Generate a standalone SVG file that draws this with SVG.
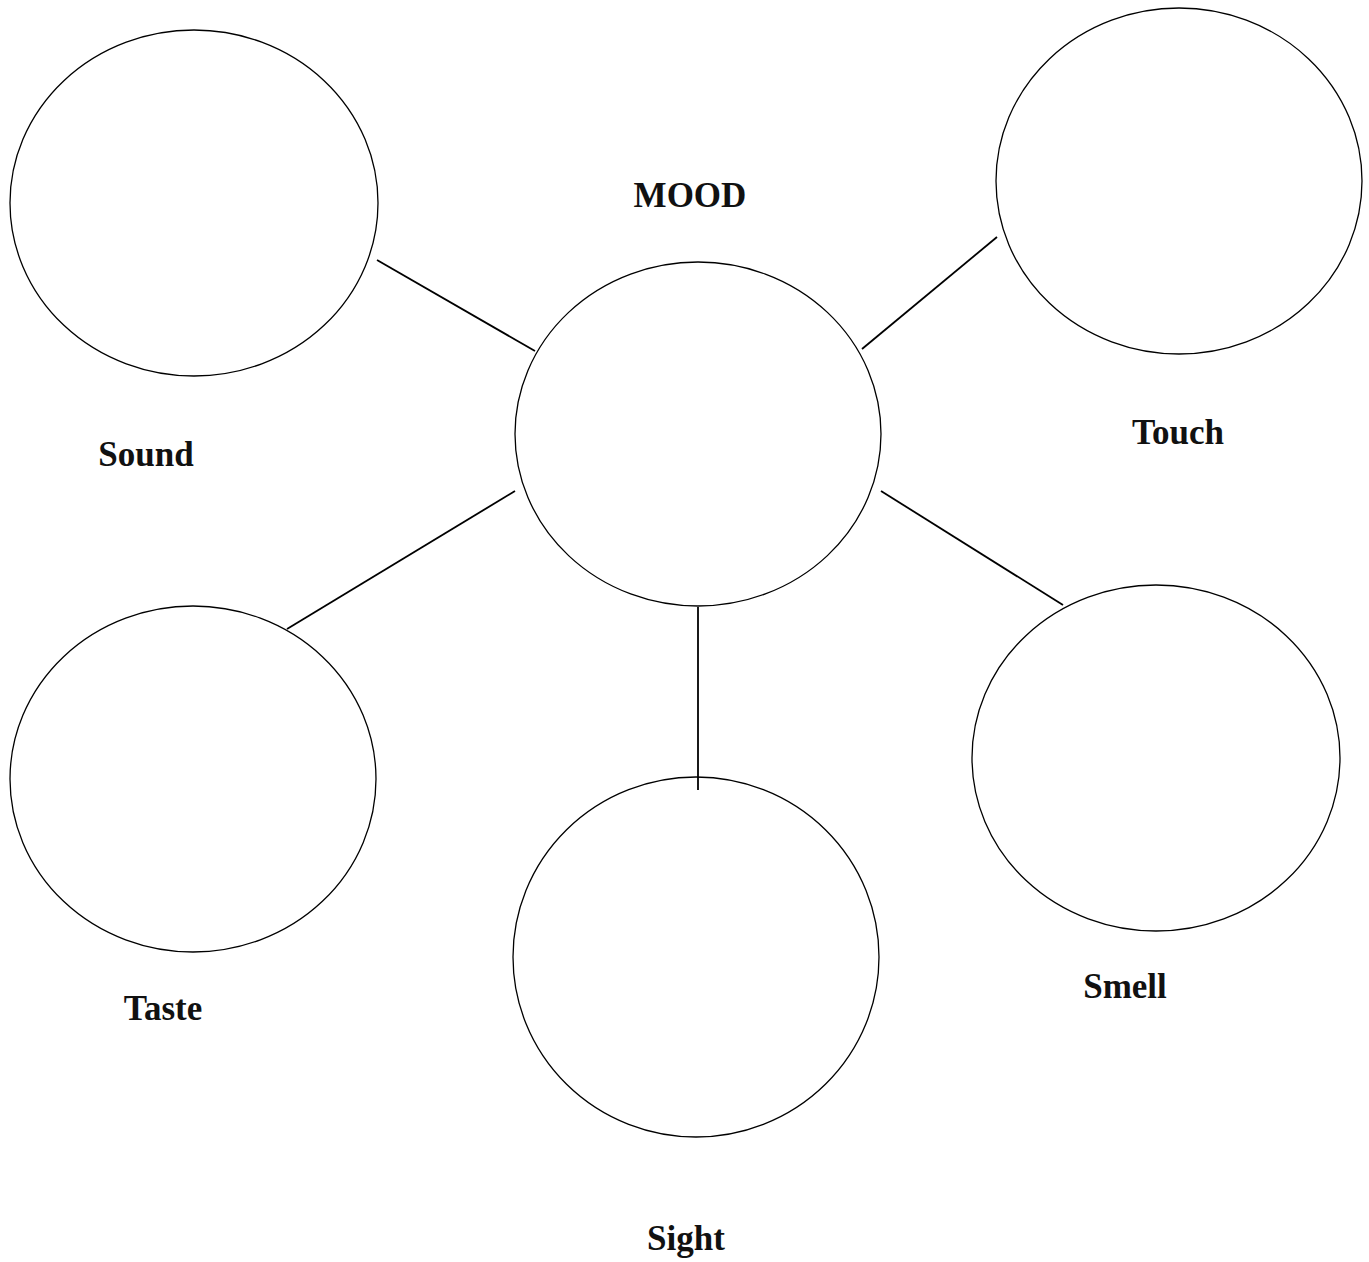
<svg xmlns="http://www.w3.org/2000/svg" width="1369" height="1262" viewBox="0 0 1369 1262">
<style>
.node{fill:none;stroke:#000;stroke-width:1.3}
.conn line{stroke:#000;stroke-width:1.8}
.lbl{font-family:"Liberation Serif","Times New Roman",serif;font-weight:bold;font-size:35px;fill:#111;text-anchor:middle}
</style>
<rect width="1369" height="1262" fill="#fff"/>
<g class="conn" id="connectors">
<line x1="377" y1="260" x2="535" y2="351"/>
<line x1="997" y1="237" x2="862" y2="349"/>
<line x1="287" y1="629" x2="515" y2="491"/>
<line x1="881" y1="491" x2="1063" y2="605"/>
<line x1="698" y1="607" x2="698" y2="790"/>
</g>
<g id="mood"><ellipse class="node" cx="698" cy="434" rx="183" ry="172"/><text class="lbl" x="690" y="207">MOOD</text></g>
<g id="sound"><ellipse class="node" cx="194" cy="203" rx="184" ry="173"/><text class="lbl" x="146" y="466">Sound</text></g>
<g id="touch"><ellipse class="node" cx="1179" cy="181" rx="183" ry="173"/><text class="lbl" x="1178" y="444">Touch</text></g>
<g id="taste"><ellipse class="node" cx="193" cy="779" rx="183" ry="173"/><text class="lbl" x="163" y="1020">Taste</text></g>
<g id="smell"><ellipse class="node" cx="1156" cy="758" rx="184" ry="173"/><text class="lbl" x="1125" y="998">Smell</text></g>
<g id="sight"><ellipse class="node" cx="696" cy="957" rx="183" ry="180"/><text class="lbl" x="686" y="1250">Sight</text></g>
</svg>
